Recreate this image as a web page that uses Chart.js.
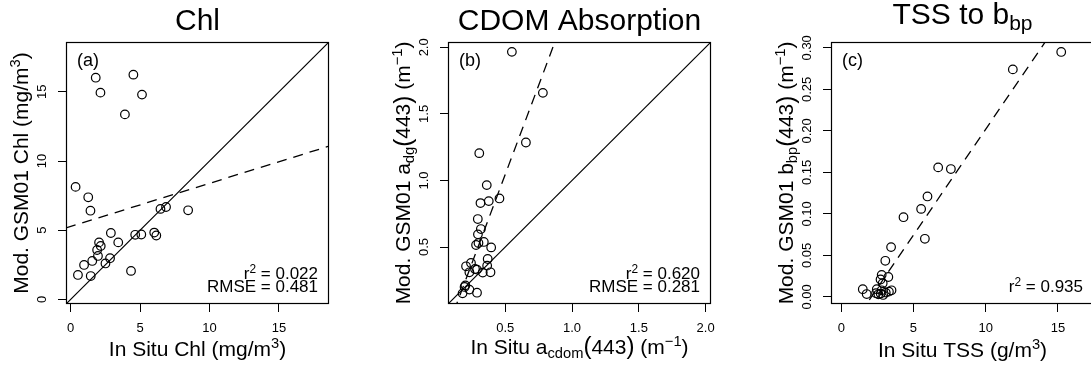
<!DOCTYPE html>
<html>
<head>
<meta charset="utf-8">
<script src="https://cdn.jsdelivr.net/npm/chart.js@4.4.0/dist/chart.umd.min.js"></script>
<style>
  html, body { margin: 0; padding: 0; background: #fff; overflow: hidden; }
  body { width: 1091px; height: 371px; position: relative; }
  canvas { position: absolute; top: 0; }
</style>
</head>
<body>
<canvas id="panelA" width="382" height="371" style="left:0px"></canvas>
<canvas id="panelB" width="382" height="371" style="left:382px"></canvas>
<canvas id="panelC" width="382" height="371" style="left:765px"></canvas>
<script>
// Chl (mg/m3): in situ vs GSM01
const chlInSitu = [1.81, 4.52, 2.15, 5.14, 3.91, 0.36, 1.27, 1.43, 6.47, 6.87, 8.46, 2.90, 4.65, 5.09, 6.02, 6.17, 2.05, 3.43, 2.17, 1.91, 1.97, 1.56, 0.97, 2.84, 2.51, 4.35, 0.53, 1.45];
const chlModel  = [16.02, 16.24, 14.94, 14.80, 13.37, 8.13, 7.38, 6.41, 6.54, 6.68, 6.44, 4.80, 4.67, 4.69, 4.83, 4.62, 4.12, 4.12, 3.86, 3.57, 3.14, 2.78, 2.49, 2.98, 2.60, 2.06, 1.77, 1.69];
const chlFit = [5.27, 0.312];   // intercept, slope
const chlR2 = '0.022';
const chlRmse = '0.481';
const chlLimits = [-0.33, 18.6];
const chlTicks = [0, 5, 10, 15];
const chlTickLabels = ['0', '5', '10', '15'];

// CDOM absorption at 443 nm (1/m)
const cdomInSitu = [0.550, 0.782, 0.655, 0.306, 0.362, 0.457, 0.377, 0.315, 0.295, 0.318, 0.296, 0.340, 0.282, 0.300, 0.395, 0.369, 0.365, 0.244, 0.207, 0.232, 0.274, 0.289, 0.332, 0.390, 0.202, 0.196, 0.232, 0.181, 0.289];
const cdomModel  = [1.966, 1.658, 1.285, 1.205, 0.965, 0.865, 0.845, 0.830, 0.710, 0.635, 0.595, 0.538, 0.515, 0.530, 0.497, 0.410, 0.360, 0.380, 0.355, 0.310, 0.335, 0.330, 0.308, 0.310, 0.212, 0.200, 0.180, 0.152, 0.157];
const cdomFit = [-0.294, 2.677];
const cdomR2 = '0.620';
const cdomRmse = '0.281';
const cdomLimits = [0.072, 2.04];
const cdomTicks = [0.5, 1.0, 1.5, 2.0];
const cdomTickLabels = ['0.5', '1.0', '1.5', '2.0'];

// TSS (g/m3) vs modelled bbp(443) (1/m)
const tssInSitu = [15.23, 11.88, 6.71, 7.59, 5.97, 5.53, 4.31, 5.79, 3.45, 3.05, 2.80, 3.26, 2.72, 2.87, 1.49, 1.76, 2.46, 2.41, 2.57, 2.73, 2.90, 3.08, 3.30, 3.48, 2.80];
const bbpModel  = [0.295, 0.274, 0.156, 0.154, 0.121, 0.106, 0.096, 0.070, 0.060, 0.0435, 0.0266, 0.024, 0.021, 0.0165, 0.0093, 0.0035, 0.0093, 0.0045, 0.0032, 0.0040, 0.0024, 0.0052, 0.0064, 0.0080, 0.0080];
const tssFit = [-0.053, 0.0255];
const tssR2 = '0.935';
const tssXLimits = [-0.71, 17.5];
const tssYLimits = [-0.0085, 0.307];
const tssXTicks = [0, 5, 10, 15];
const tssXTickLabels = ['0', '5', '10', '15'];
const bbpTicks = [0, 0.05, 0.10, 0.15, 0.20, 0.25, 0.30];
const bbpTickLabels = ['0.00', '0.05', '0.10', '0.15', '0.20', '0.25', '0.30'];

const FONT = '"Liberation Sans", Arial, Helvetica, sans-serif';
const H = 371;

// text with sub/superscripts, drawn piece by piece
function drawRich(ctx, segs, x, y, size, align, angle) {
  const parts = segs.map(([txt, kind]) => {
    let s = size, dy = 0;
    if (kind === 'sup') { s = size * 0.7; dy = -size * 0.36; }
    if (kind === 'sub') { s = size * 0.7; dy = size * 0.2; }
    if (kind === 'big') { s = size * 1.15; dy = size * 0.04; }
    ctx.font = s + 'px ' + FONT;
    return { txt, s, dy, w: ctx.measureText(txt).width };
  });
  const total = parts.reduce((t, p) => t + p.w, 0);
  let cx = align === 'center' ? -total / 2 : align === 'right' ? -total : 0;
  ctx.save();
  ctx.translate(x, y);
  if (angle) ctx.rotate(angle);
  ctx.fillStyle = '#000';
  ctx.textAlign = 'left';
  ctx.textBaseline = 'alphabetic';
  parts.forEach(p => {
    ctx.font = p.s + 'px ' + FONT;
    ctx.fillText(p.txt, cx, p.dy);
    cx += p.w;
  });
  ctx.restore();
}

const meter = document.createElement('canvas').getContext('2d');
function widest(labels) {
  meter.font = '13px ' + FONT;
  return Math.max(...labels.map(t => meter.measureText(t).width));
}

function buildPanel(id, p) {
  const [xMin, xMax] = p.xLim;
  const [yMin, yMax] = p.yLim;
  const fitLine = ([a, b]) => [{ x: xMin, y: a + b * xMin }, { x: xMax, y: a + b * xMax }];

  const datasets = [{
    data: p.x.map((v, i) => ({ x: v, y: p.y[i] })),
    pointStyle: 'circle',
    pointRadius: 4.3,
    pointBorderWidth: 1.2,
    pointBorderColor: '#000',
    pointBackgroundColor: 'rgba(0,0,0,0)'
  }, {
    data: fitLine(p.fit),
    showLine: true,
    pointRadius: 0,
    borderWidth: 1.3,
    borderColor: '#000',
    borderDash: [10, 7]
  }];
  if (p.oneToOne) {
    datasets.push({
      data: fitLine([0, 1]),
      showLine: true,
      pointRadius: 0,
      borderWidth: 1.2,
      borderColor: '#000'
    });
  }

  const tickGrid = { drawOnChartArea: false, drawTicks: true, tickLength: 8, color: '#000', lineWidth: 1 };
  const tickFont = { family: FONT, size: 13, lineHeight: 1.2 };

  const decor = {
    id: 'decor',
    afterDraw(chart) {
      const { ctx, chartArea: a } = chart;
      ctx.save();
      ctx.strokeStyle = '#000';
      ctx.lineWidth = 1.2;
      ctx.strokeRect(a.left + 0.5, a.top + 0.5, a.right - a.left - 1, a.bottom - a.top - 1);
      ctx.restore();

      const cx = (a.left + a.right) / 2;
      const cy = (a.top + a.bottom) / 2;
      drawRich(ctx, p.title, cx, p.titleY, 30, 'center');
      drawRich(ctx, p.xTitle, cx, p.xTitleY, 21, 'center');
      drawRich(ctx, p.yTitle, 28, cy, 21, 'center', -Math.PI / 2);
      drawRich(ctx, [[p.tag]], a.left + 11, 66, 18, 'left');

      const right = a.right - 11;
      if (p.rmse) {
        drawRich(ctx, [['r'], ['2', 'sup'], [' = ' + p.r2]], right, 279, 17, 'right');
        drawRich(ctx, [['RMSE = ' + p.rmse]], right, 292, 17, 'right');
      } else {
        drawRich(ctx, [['r'], ['2', 'sup'], [' = ' + p.r2]], right, 292, 17, 'right');
      }
    }
  };

  return new Chart(document.getElementById(id), {
    type: 'scatter',
    data: { datasets },
    options: {
      responsive: false,
      animation: false,
      devicePixelRatio: 1,
      layout: { padding: { left: 0, right: 382 - 329, top: 42, bottom: 0 } },
      plugins: { legend: { display: false }, title: { display: false }, tooltip: { enabled: false } },
      scales: {
        x: {
          type: 'linear', min: xMin, max: xMax,
          afterBuildTicks: s => { s.ticks = p.xTicks.map(v => ({ value: v })); },
          afterFit: s => { s.height = H - 304; },
          grid: tickGrid,
          border: { display: false },
          ticks: { color: '#000', font: tickFont, padding: 9, maxRotation: 0, autoSkip: false,
                   callback: (v, i) => p.xLabels[i] }
        },
        y: {
          type: 'linear', min: yMin, max: yMax,
          afterBuildTicks: s => { s.ticks = p.yTicks.map(v => ({ value: v })); },
          afterFit: s => { s.width = 66; },
          grid: tickGrid,
          border: { display: false },
          ticks: { color: '#000', font: tickFont, minRotation: 90, maxRotation: 90, crossAlign: 'center',
                   padding: 23.5 - 8 - widest(p.yLabels) / 2, autoSkip: false,
                   callback: (v, i) => p.yLabels[i] }
        }
      }
    },
    plugins: [decor]
  });
}

buildPanel('panelA', {
  x: chlInSitu, y: chlModel, fit: chlFit, oneToOne: true,
  xLim: chlLimits, yLim: chlLimits,
  xTicks: chlTicks, xLabels: chlTickLabels, yTicks: chlTicks, yLabels: chlTickLabels,
  r2: chlR2, rmse: chlRmse, tag: '(a)',
  title: [['Chl']], titleY: 30,
  xTitle: [['In Situ Chl (mg/m'], ['3', 'sup'], [')']], xTitleY: 356,
  yTitle: [['Mod. GSM01 Chl (mg/m'], ['3', 'sup'], [')']]
});

buildPanel('panelB', {
  x: cdomInSitu, y: cdomModel, fit: cdomFit, oneToOne: true,
  xLim: cdomLimits, yLim: cdomLimits,
  xTicks: cdomTicks, xLabels: cdomTickLabels, yTicks: cdomTicks, yLabels: cdomTickLabels,
  r2: cdomR2, rmse: cdomRmse, tag: '(b)',
  title: [['CDOM Absorption']], titleY: 30,
  xTitle: [['In Situ a'], ['cdom', 'sub'], ['(', 'big'], ['443'], [')', 'big'], [' (m'], ['\u22121', 'sup'], [')']], xTitleY: 353.5,
  yTitle: [['Mod. GSM01 a'], ['dg', 'sub'], ['(', 'big'], ['443'], [')', 'big'], [' (m'], ['\u22121', 'sup'], [')']]
});

buildPanel('panelC', {
  x: tssInSitu, y: bbpModel, fit: tssFit, oneToOne: false,
  xLim: tssXLimits, yLim: tssYLimits,
  xTicks: tssXTicks, xLabels: tssXTickLabels, yTicks: bbpTicks, yLabels: bbpTickLabels,
  r2: tssR2, rmse: null, tag: '(c)',
  title: [['TSS to b'], ['bp', 'sub']], titleY: 23.5,
  xTitle: [['In Situ TSS (g/m'], ['3', 'sup'], [')']], xTitleY: 357,
  yTitle: [['Mod. GSM01 b'], ['bp', 'sub'], ['(', 'big'], ['443'], [')', 'big'], [' (m'], ['\u22121', 'sup'], [')']]
});
</script>
</body>
</html>
